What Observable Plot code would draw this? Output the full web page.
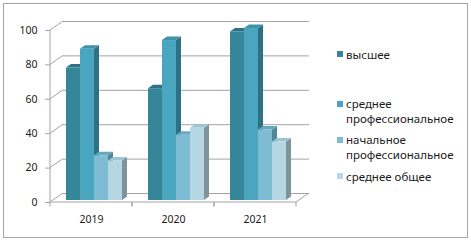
<!DOCTYPE html>
<html>
<head>
<meta charset="utf-8">
<script src="https://cdn.jsdelivr.net/npm/d3@7"></script>
<script src="https://cdn.jsdelivr.net/npm/@observablehq/plot@0.6"></script>
<style>
  body { margin: 0; background: #fff; }
  #wrap { position: relative; width: 471px; height: 241px; overflow: hidden; font-family: "Noto Sans", sans-serif; color: #1a1a1a; }
  #wrap svg { position: absolute; left: 0; top: 0; }
  #frame { position: absolute; left: 3px; top: 3px; width: 465px; height: 235px; border: 1px solid #a6a6a6; box-sizing: border-box; pointer-events: none; }
  .lg { position: absolute; left: 337px; font-size: 11.5px; line-height: 15px; }
  .lg i { position: absolute; left: 0; top: 4.5px; width: 6px; height: 6px; }
  .lg span { display: block; margin-left: 9px; white-space: nowrap; }
</style>
</head>
<body>
<div id="wrap"><div id="frame"></div></div>
<script>
// ---- data ----
const years = ["2019", "2020", "2021"];
const seriesNames = ["высшее", "среднее профессиональное", "начальное профессиональное", "среднее общее"];
const legendLines = [["высшее"], ["среднее", "профессиональное"], ["начальное", "профессиональное"], ["среднее общее"]];
const vysshee = [77, 65, 98];
const srednProf = [88, 93, 100];
const nachProf = [26, 38, 41];
const srednObsh = [23, 42, 34];
const yTicks = [0, 20, 40, 60, 80, 100];

// ---- style ----
const fronts = ["#36869a", "#49a6be", "#7dbcd2", "#b4d7e3"];
const caps   = ["#2e7385", "#3d93aa", "#68a9bf", "#9dc5d3"];
const sides  = ["#266272", "#2d7284", "#4e8797", "#7e9499"];
const legendColors = ["#35849a", "#48a7bf", "#7bbdd2", "#b6d8e4"];
const gridColor = "#a3a3a3";
const WX = 13, WY = -9;      // wall depth offset (px)
const BX = 5, BY = -3.5;     // bar depth (px)

const seriesValues = [vysshee, srednProf, nachProf, srednObsh];
const data = years.flatMap((yr, i) => seriesNames.map((s, j) => ({year: yr, series: s, sIdx: j, value: seriesValues[j][i]})));

function bars3d(index, scales, values, dimensions, context, next) {
  const g = next(index, scales, values, dimensions, context);
  const rects = Array.from(g.querySelectorAll("rect"));
  rects.forEach((r, k) => {
    const d = data[index[k]];
    const x = +r.getAttribute("x"), y = +r.getAttribute("y");
    const w = +r.getAttribute("width"), h = +r.getAttribute("height");
    r.setAttribute("fill", fronts[d.sIdx]);
    const side = document.createElementNS("http://www.w3.org/2000/svg", "path");
    side.setAttribute("d", `M${x + w},${y}L${x + w + BX},${y + BY}L${x + w + BX},${y + h + BY}L${x + w},${y + h}Z`);
    side.setAttribute("fill", sides[d.sIdx]);
    const cap = document.createElementNS("http://www.w3.org/2000/svg", "path");
    cap.setAttribute("d", `M${x},${y}L${x + BX},${y + BY}L${x + w + BX},${y + BY}L${x + w},${y}Z`);
    cap.setAttribute("fill", caps[d.sIdx]);
    r.parentNode.insertBefore(side, r);
    r.parentNode.insertBefore(cap, r);
  });
  return g;
}

function leftWall(index, scales, values, dimensions) {
  const g = d3.create("svg:g").attr("stroke", gridColor).attr("fill", "none");
  const x0 = dimensions.marginLeft;
  for (const i of index) {
    const y = values.y[i];
    g.append("line").attr("x1", x0).attr("y1", y).attr("x2", x0 + WX).attr("y2", y + WY);
  }
  g.append("line").attr("x1", x0).attr("x2", x0).attr("y1", scales.y(0)).attr("y2", scales.y(100));
  return g.node();
}

const floorData = years.map(yr => ({year: yr, v: 0}));
function floorRender(index, scales, values, dimensions) {
  const g = d3.create("svg:g").attr("stroke", gridColor).attr("fill", "none");
  const x0 = dimensions.marginLeft, x1 = dimensions.width - dimensions.marginRight;
  for (const i of index) {
    const y = values.y[i];
    g.append("line").attr("x1", x0).attr("x2", x1).attr("y1", y).attr("y2", y);
    g.append("line").attr("x1", x0).attr("x2", x0).attr("y1", y).attr("y2", y + 4.5);
    g.append("line").attr("x1", x1).attr("x2", x1).attr("y1", y).attr("y2", y + 4.5);
    if (floorData[i].year === years[years.length - 1]) {
      g.append("line").attr("x1", x1).attr("y1", y).attr("x2", x1 + WX).attr("y2", y + WY);
    }
  }
  return g.node();
}

const chart = Plot.plot({
  width: 471,
  height: 241,
  marginLeft: 49,
  marginRight: 174,
  marginTop: 30,
  marginBottom: 39,
  style: {fontFamily: '"Noto Sans", sans-serif', fontSize: "10.5px", color: "#1a1a1a", background: "transparent"},
  fx: {domain: years, padding: 0},
  x: {domain: seriesNames, paddingInner: 0, paddingOuter: 0.75, axis: null},
  y: {domain: [0, 100]},
  color: {domain: seriesNames, range: fronts},
  marks: [
    Plot.ruleY(yTicks, {dx: WX, dy: WY, stroke: gridColor}),
    Plot.ruleY(yTicks.map(v => ({v, year: years[0]})), {fx: "year", y: "v", render: leftWall}),
    Plot.ruleY(floorData, {fx: "year", y: "v", render: floorRender}),
    Plot.barY(data, {fx: "year", x: "series", y: "value", fill: "series", dx: 3, dy: -2, render: bars3d}),
    Plot.axisY({ticks: yTicks, tickSize: 5, tickPadding: 8, label: null, stroke: gridColor, fill: "#1a1a1a"}),
    Plot.axisFx({anchor: "bottom", tickSize: 0, tickPadding: 13, label: null, fill: "#1a1a1a"})
  ]
});
const wrap = document.getElementById("wrap");
wrap.insertBefore(chart, wrap.firstChild);

// legend
const legendCenters = [54, 103.5, 139.5, 176];
legendLines.forEach((lines, j) => {
  const div = document.createElement("div");
  div.className = "lg";
  div.style.top = (legendCenters[j] - 7.5) + "px";
  const sq = document.createElement("i");
  sq.style.background = legendColors[j];
  div.appendChild(sq);
  lines.forEach(t => { const s = document.createElement("span"); s.textContent = t; div.appendChild(s); });
  wrap.appendChild(div);
});
</script>
</body>
</html>
